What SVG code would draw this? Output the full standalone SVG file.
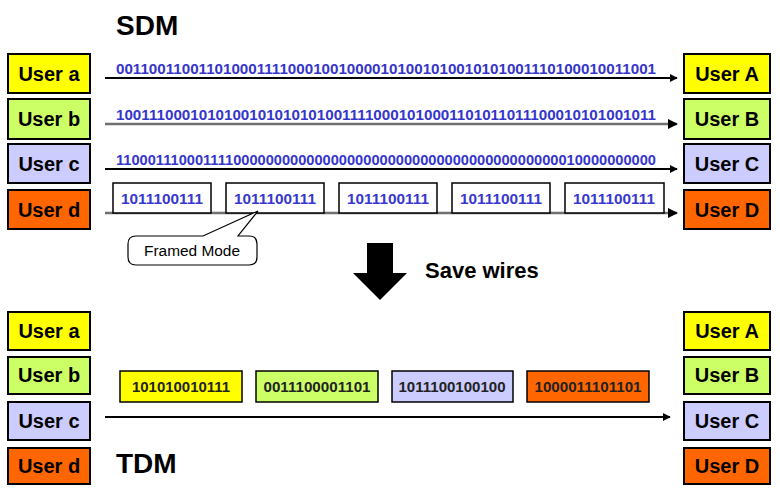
<svg xmlns="http://www.w3.org/2000/svg" width="780" height="500" viewBox="0 0 780 500">
<style>
.box{stroke:#000;stroke-width:2}
.lbl{font-family:"Liberation Sans",Arial,sans-serif;font-weight:bold;font-size:20px;fill:#000;text-anchor:middle}
.title{font-family:"Liberation Sans",Arial,sans-serif;font-weight:bold;font-size:28px;fill:#000}
.bits{font-family:"Liberation Sans",Arial,sans-serif;font-weight:bold;font-size:14px;fill:#3535cc}
.fbits{font-family:"Liberation Sans",Arial,sans-serif;font-weight:bold;font-size:14px;fill:#3838d0;text-anchor:middle}
.dbits{font-family:"Liberation Sans",Arial,sans-serif;font-weight:bold;font-size:14px;fill:#222;text-anchor:middle}
.frame{fill:#fff;stroke:#000;stroke-width:1.5}
.dbox{stroke:#000;stroke-width:1.5}
.y{fill:#ffff00}.g{fill:#ccff66}.c{fill:#ccccff}.o{fill:#ff6600}
.ln{stroke:#000;stroke-width:2;fill:none}
.lng{stroke:#707070;stroke-width:2.5;fill:none}
</style>
<defs>
<marker id="ah" viewBox="0 0 10 10" refX="9" refY="5" markerWidth="4" markerHeight="4" orient="auto" markerUnits="strokeWidth">
<path d="M0,0 L10,5 L0,10 z" fill="#000"/>
</marker>
<marker id="ah2" viewBox="0 0 10 10" refX="9" refY="5" markerWidth="4" markerHeight="4" orient="auto" markerUnits="strokeWidth">
<path d="M0,0 L10,5 L0,10 z" fill="#000"/>
</marker>
</defs>
<rect width="780" height="500" fill="#fff"/>

<text class="title" x="116" y="35">SDM</text>
<text class="title" x="116" y="473">TDM</text>

<!-- SDM left -->
<g id="sdm-user-a"><rect class="box y" x="8" y="54" width="82" height="39"/><text class="lbl" x="49" y="81">User a</text></g>
<g id="sdm-user-b"><rect class="box g" x="8" y="99" width="82" height="40"/><text class="lbl" x="49" y="126">User b</text></g>
<g id="sdm-user-c"><rect class="box c" x="8" y="144" width="82" height="39"/><text class="lbl" x="49" y="171">User c</text></g>
<g id="sdm-user-d"><rect class="box o" x="8" y="190" width="82" height="39"/><text class="lbl" x="49" y="217">User d</text></g>
<!-- SDM right -->
<g id="sdm-user-A"><rect class="box y" x="684" y="54" width="86" height="39"/><text class="lbl" x="727" y="81">User A</text></g>
<g id="sdm-user-B"><rect class="box g" x="684" y="99" width="86" height="40"/><text class="lbl" x="727" y="126">User B</text></g>
<g id="sdm-user-C"><rect class="box c" x="684" y="144" width="86" height="39"/><text class="lbl" x="727" y="171">User C</text></g>
<g id="sdm-user-D"><rect class="box o" x="684" y="190" width="86" height="39"/><text class="lbl" x="727" y="217">User D</text></g>

<g id="connectors">
<line class="ln" x1="105" y1="78" x2="677" y2="78" marker-end="url(#ah)"/>
<line class="lng" x1="105" y1="124" x2="677" y2="124" marker-end="url(#ah2)"/>
<line class="ln" x1="105" y1="169" x2="677" y2="169" marker-end="url(#ah)"/>
<line class="lng" x1="105" y1="213" x2="677" y2="213" marker-end="url(#ah2)"/>
<line class="ln" x1="105" y1="417" x2="670" y2="417" stroke-width="3" marker-end="url(#ah)"/>
</g>

<g id="bit-streams">
<text class="bits" x="116" y="74" textLength="540" lengthAdjust="spacingAndGlyphs">00110011001101000111100010010000101001010010101001110100010011001</text>
<text class="bits" x="116" y="120" textLength="540" lengthAdjust="spacingAndGlyphs">10011100010101001010101010011110001010001101011011100010101001011</text>
<text class="bits" x="116" y="165" textLength="540" lengthAdjust="spacingAndGlyphs">1100011100011110000000000000000000000000000000000000000010000000000</text>
</g>

<g id="frames">
<rect class="frame" x="113" y="183" width="98" height="30"/><text class="fbits" x="162" y="204" textLength="82" lengthAdjust="spacingAndGlyphs">1011100111</text>
<rect class="frame" x="226" y="183" width="98" height="30"/><text class="fbits" x="275" y="204" textLength="82" lengthAdjust="spacingAndGlyphs">1011100111</text>
<rect class="frame" x="339" y="183" width="98" height="30"/><text class="fbits" x="388" y="204" textLength="82" lengthAdjust="spacingAndGlyphs">1011100111</text>
<rect class="frame" x="452" y="183" width="98" height="30"/><text class="fbits" x="501" y="204" textLength="82" lengthAdjust="spacingAndGlyphs">1011100111</text>
<rect class="frame" x="565" y="183" width="99" height="30"/><text class="fbits" x="614" y="204" textLength="82" lengthAdjust="spacingAndGlyphs">1011100111</text>
</g>

<g id="callout">
<path d="M136,236 L203,236 L258,211 L238,236 L249,236 Q257,236 257,244 L257,257 Q257,265 249,265 L136,265 Q128,265 128,257 L128,244 Q128,236 136,236 Z" fill="#fff" stroke="#000" stroke-width="1.2"/>
<text x="192" y="256" font-family="'Liberation Sans',Arial,sans-serif" font-size="14" text-anchor="middle" fill="#000" textLength="96" lengthAdjust="spacingAndGlyphs">Framed Mode</text>
</g>

<g id="save-arrow">
<path d="M367,243 L393,243 L393,273 L407,273 L380,300 L353,273 L367,273 Z" fill="#000"/>
<text x="425" y="278" font-family="'Liberation Sans',Arial,sans-serif" font-weight="bold" font-size="22" fill="#000">Save wires</text>
</g>

<!-- TDM left -->
<g id="tdm-user-a"><rect class="box y" x="8" y="312" width="82" height="38"/><text class="lbl" x="49" y="338">User a</text></g>
<g id="tdm-user-b"><rect class="box g" x="8" y="357" width="82" height="37"/><text class="lbl" x="49" y="382">User b</text></g>
<g id="tdm-user-c"><rect class="box c" x="8" y="402" width="82" height="38"/><text class="lbl" x="49" y="428">User c</text></g>
<g id="tdm-user-d"><rect class="box o" x="8" y="448" width="82" height="36"/><text class="lbl" x="49" y="473">User d</text></g>
<!-- TDM right -->
<g id="tdm-user-A"><rect class="box y" x="684" y="312" width="86" height="38"/><text class="lbl" x="727" y="338">User A</text></g>
<g id="tdm-user-B"><rect class="box g" x="684" y="357" width="86" height="37"/><text class="lbl" x="727" y="382">User B</text></g>
<g id="tdm-user-C"><rect class="box c" x="684" y="402" width="86" height="38"/><text class="lbl" x="727" y="428">User C</text></g>
<g id="tdm-user-D"><rect class="box o" x="684" y="448" width="86" height="36"/><text class="lbl" x="727" y="473">User D</text></g>

<g id="tdm-slots">
<rect class="dbox y" x="120" y="371" width="122" height="31"/><text class="dbits" x="181" y="392" textLength="98" lengthAdjust="spacingAndGlyphs">101010010111</text>
<rect class="dbox g" x="256" y="371" width="122" height="31"/><text class="dbits" x="317" y="392" textLength="107" lengthAdjust="spacingAndGlyphs">0011100001101</text>
<rect class="dbox c" x="392" y="371" width="121" height="31"/><text class="dbits" x="452" y="392" textLength="107" lengthAdjust="spacingAndGlyphs">1011100100100</text>
<rect class="dbox o" x="527" y="371" width="122" height="31"/><text class="dbits" x="588" y="392" textLength="107" lengthAdjust="spacingAndGlyphs">1000011101101</text>
</g>
</svg>
